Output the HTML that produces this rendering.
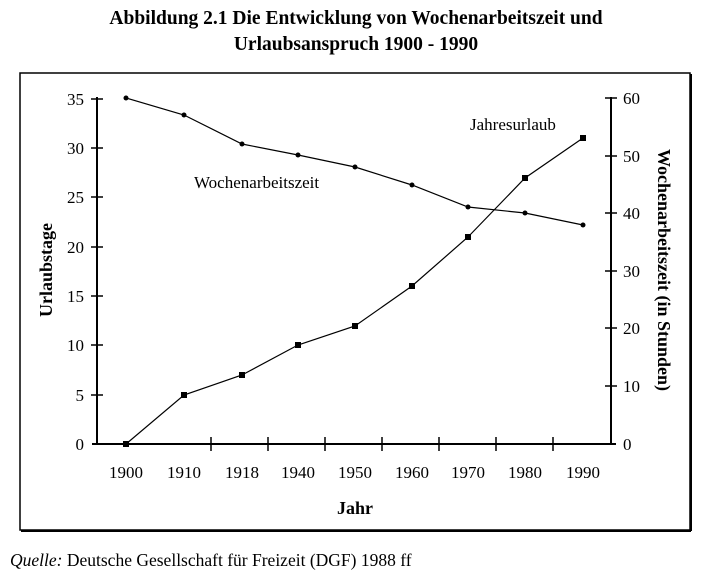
<!DOCTYPE html>
<html><head><meta charset="utf-8"><style>
body{margin:0;background:#fff;}
svg{display:block;font-family:"Liberation Serif",serif;}
</style></head><body>
<svg width="713" height="576" viewBox="0 0 713 576" xmlns="http://www.w3.org/2000/svg">
<text x="356" y="24" text-anchor="middle" font-size="19.5" font-weight="bold">Abbildung 2.1 Die Entwicklung von Wochenarbeitszeit und</text>
<text x="356" y="50" text-anchor="middle" font-size="19.5" font-weight="bold">Urlaubsanspruch 1900 - 1990</text>
<rect x="20" y="73" width="670" height="457" fill="none" stroke="#000" stroke-width="1.5"/>
<line x1="21" y1="531" x2="691" y2="531" stroke="#000" stroke-width="2"/>
<line x1="691" y1="74" x2="691" y2="531" stroke="#000" stroke-width="2"/>
<g stroke="#000" stroke-width="2">
<line x1="97" y1="97" x2="97" y2="444"/>
<line x1="611" y1="97" x2="611" y2="444"/>
<line x1="92" y1="444" x2="616" y2="444"/>
</g>
<g stroke="#000" stroke-width="1.5">
<line x1="91" y1="99" x2="103" y2="99"/><line x1="91" y1="148" x2="103" y2="148"/><line x1="91" y1="197" x2="103" y2="197"/><line x1="91" y1="247" x2="103" y2="247"/><line x1="91" y1="296" x2="103" y2="296"/><line x1="91" y1="345" x2="103" y2="345"/><line x1="91" y1="395" x2="103" y2="395"/>
<line x1="605" y1="98" x2="617" y2="98"/><line x1="605" y1="156" x2="617" y2="156"/><line x1="605" y1="213" x2="617" y2="213"/><line x1="605" y1="271" x2="617" y2="271"/><line x1="605" y1="328" x2="617" y2="328"/><line x1="605" y1="386" x2="617" y2="386"/>
<line x1="211" y1="437" x2="211" y2="451"/><line x1="268" y1="437" x2="268" y2="451"/><line x1="325" y1="437" x2="325" y2="451"/><line x1="382" y1="437" x2="382" y2="451"/><line x1="439" y1="437" x2="439" y2="451"/><line x1="496" y1="437" x2="496" y2="451"/><line x1="553" y1="437" x2="553" y2="451"/>
</g>
<g font-size="17" text-anchor="end">
<text x="84" y="105">35</text><text x="84" y="154">30</text><text x="84" y="203">25</text><text x="84" y="253">20</text><text x="84" y="302">15</text><text x="84" y="351">10</text><text x="84" y="401">5</text><text x="84" y="450">0</text>
</g>
<g font-size="17">
<text x="623" y="104">60</text><text x="623" y="162">50</text><text x="623" y="219">40</text><text x="623" y="277">30</text><text x="623" y="334">20</text><text x="623" y="392">10</text><text x="623" y="450">0</text>
</g>
<g font-size="17" text-anchor="middle">
<text x="126" y="478">1900</text><text x="184" y="478">1910</text><text x="242" y="478">1918</text><text x="298" y="478">1940</text><text x="355" y="478">1950</text><text x="412" y="478">1960</text><text x="468" y="478">1970</text><text x="525" y="478">1980</text><text x="583" y="478">1990</text>
</g>
<text x="355" y="514" text-anchor="middle" font-size="18" font-weight="bold">Jahr</text>
<text transform="translate(52,270) rotate(-90)" text-anchor="middle" font-size="18" font-weight="bold">Urlaubstage</text>
<text transform="translate(658,270) rotate(90)" text-anchor="middle" font-size="18" font-weight="bold">Wochenarbeitszeit (in Stunden)</text>
<polyline fill="none" stroke="#000" stroke-width="1.2" points="126,98 184,115 242,144 298,155 355,167 412,185 468,207 525,213 583,225"/>
<g fill="#000"><circle cx="126" cy="98" r="2.5"/><circle cx="184" cy="115" r="2.5"/><circle cx="242" cy="144" r="2.5"/><circle cx="298" cy="155" r="2.5"/><circle cx="355" cy="167" r="2.5"/><circle cx="412" cy="185" r="2.5"/><circle cx="468" cy="207" r="2.5"/><circle cx="525" cy="213" r="2.5"/><circle cx="583" cy="225" r="2.5"/></g>
<polyline fill="none" stroke="#000" stroke-width="1.2" points="126,444 184,395 242,375 298,345 355,326 412,286 468,237 525,178 583,138"/>
<g fill="#000"><rect x="123" y="441" width="6" height="6"/><rect x="181" y="392" width="6" height="6"/><rect x="239" y="372" width="6" height="6"/><rect x="295" y="342" width="6" height="6"/><rect x="352" y="323" width="6" height="6"/><rect x="409" y="283" width="6" height="6"/><rect x="465" y="234" width="6" height="6"/><rect x="522" y="175" width="6" height="6"/><rect x="580" y="135" width="6" height="6"/></g>
<text x="194" y="188" font-size="17">Wochenarbeitszeit</text>
<text x="470" y="130" font-size="17">Jahresurlaub</text>
<text x="10" y="566" font-size="17.5"><tspan font-style="italic">Quelle:</tspan> Deutsche Gesellschaft für Freizeit (DGF) 1988 ff</text>
</svg>
</body></html>
